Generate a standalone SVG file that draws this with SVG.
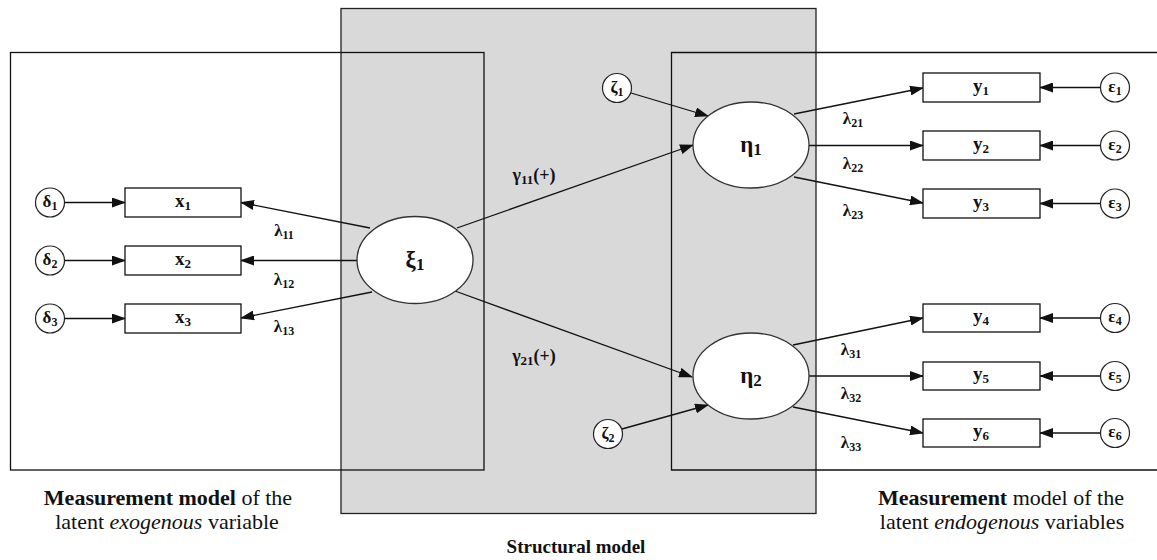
<svg xmlns="http://www.w3.org/2000/svg" width="1157" height="560" viewBox="0 0 1157 560">
  <defs>
    <marker id="arrow" markerWidth="14" markerHeight="10" refX="13" refY="5" orient="auto" markerUnits="userSpaceOnUse">
      <path d="M0,0 L14,5 L0,10 Z" fill="#111"/>
    </marker>
    <style>
      .frame { fill: none; stroke: #111; stroke-width: 1.3; }
      .panel { fill: #d9d9d9; stroke: #222; stroke-width: 1.3; }
      .box { fill: #fff; stroke: #111; stroke-width: 1.3; }
      .latent { fill: #fff; stroke: #333; stroke-width: 1.3; }
      .err { fill: #fff; stroke: #222; stroke-width: 1.2; }
      .edge { fill: none; stroke: #111; stroke-width: 1.3; marker-end: url(#arrow); }
      text { font-family: "Liberation Serif", "Times New Roman", serif; fill: #111; }
      .lbl { font-size: 19px; font-weight: bold; text-anchor: middle; }
      .big { font-size: 23px; font-weight: bold; text-anchor: middle; }
      .small { font-size: 17px; font-weight: bold; text-anchor: middle; }
      .coef { font-size: 17px; font-weight: bold; text-anchor: middle; }
      .gam { font-size: 18px; font-weight: bold; text-anchor: middle; }
      .cap { font-size: 22px; text-anchor: middle; }
      .title { font-size: 19px; font-weight: bold; text-anchor: middle; }
      .b { font-weight: bold; }
      .i { font-style: italic; }
    </style>
  </defs>

  <!-- structural model panel -->
  <rect id="structural-panel" class="panel" x="341" y="8.5" width="475" height="505"/>
  <!-- measurement model frames -->
  <rect id="exogenous-frame" class="frame" x="10.5" y="52.5" width="473.5" height="417.5"/>
  <path id="endogenous-frame" class="frame" d="M1160,52.5 H671.5 V470 H1160"/>

  <!-- connectors -->
  <g id="connectors">
    <line class="edge" x1="64.5" y1="202.5" x2="125" y2="202.5"/>
    <line class="edge" x1="64.5" y1="260.5" x2="125" y2="260.5"/>
    <line class="edge" x1="64.5" y1="318.5" x2="125" y2="318.5"/>
    <line class="edge" x1="370" y1="228" x2="241" y2="202.5"/>
    <line class="edge" x1="357" y1="260.5" x2="241" y2="260.5"/>
    <line class="edge" x1="372" y1="292" x2="241" y2="318"/>
    <line class="edge" x1="457" y1="228" x2="693" y2="145"/>
    <line class="edge" x1="455" y1="291" x2="692" y2="377"/>
    <line class="edge" x1="631" y1="93" x2="708" y2="116"/>
    <line class="edge" x1="622" y1="429" x2="708" y2="405"/>
    <line class="edge" x1="794" y1="114" x2="923" y2="88"/>
    <line class="edge" x1="809" y1="145.5" x2="923" y2="145.5"/>
    <line class="edge" x1="794" y1="177" x2="923" y2="203"/>
    <line class="edge" x1="793" y1="345" x2="923" y2="318"/>
    <line class="edge" x1="809" y1="376" x2="923" y2="376"/>
    <line class="edge" x1="793" y1="407" x2="923" y2="433"/>
    <line class="edge" x1="1100.5" y1="87.5" x2="1040" y2="87.5"/>
    <line class="edge" x1="1100.5" y1="145.5" x2="1040" y2="145.5"/>
    <line class="edge" x1="1100.5" y1="203.5" x2="1040" y2="203.5"/>
    <line class="edge" x1="1100.5" y1="318" x2="1040" y2="318"/>
    <line class="edge" x1="1100.5" y1="376" x2="1040" y2="376"/>
    <line class="edge" x1="1100.5" y1="433" x2="1040" y2="433"/>
  </g>

  <!-- loading and path coefficients -->
  <g id="coefficients">
    <text class="coef" x="284" y="236">λ<tspan font-size="12" dy="3">11</tspan></text>
    <text class="coef" x="284" y="285">λ<tspan font-size="12" dy="3">12</tspan></text>
    <text class="coef" x="284" y="332">λ<tspan font-size="12" dy="3">13</tspan></text>
    <text class="gam" x="534" y="181">γ<tspan font-size="13" dy="3">11</tspan><tspan dy="-3">(+)</tspan></text>
    <text class="gam" x="534" y="362">γ<tspan font-size="13" dy="3">21</tspan><tspan dy="-3">(+)</tspan></text>
    <text class="coef" x="853" y="124">λ<tspan font-size="12" dy="3">21</tspan></text>
    <text class="coef" x="853" y="169">λ<tspan font-size="12" dy="3">22</tspan></text>
    <text class="coef" x="853" y="216">λ<tspan font-size="12" dy="3">23</tspan></text>
    <text class="coef" x="851" y="355">λ<tspan font-size="12" dy="3">31</tspan></text>
    <text class="coef" x="851" y="399">λ<tspan font-size="12" dy="3">32</tspan></text>
    <text class="coef" x="851" y="448">λ<tspan font-size="12" dy="3">33</tspan></text>
  </g>

  <!-- error terms of x -->
  <g id="delta1"><circle class="err" cx="50" cy="202.5" r="14.5"/><text class="small" x="50" y="207">δ<tspan font-size="12" dy="3">1</tspan></text></g>
  <g id="delta2"><circle class="err" cx="50" cy="260.5" r="14.5"/><text class="small" x="50" y="265">δ<tspan font-size="12" dy="3">2</tspan></text></g>
  <g id="delta3"><circle class="err" cx="50" cy="318.5" r="14.5"/><text class="small" x="50" y="323">δ<tspan font-size="12" dy="3">3</tspan></text></g>

  <!-- observed exogenous indicators -->
  <g id="x1"><rect class="box" x="125" y="188" width="116" height="29"/><text class="lbl" x="183" y="207">x<tspan font-size="13" dy="3">1</tspan></text></g>
  <g id="x2"><rect class="box" x="125" y="246" width="116" height="29"/><text class="lbl" x="183" y="265">x<tspan font-size="13" dy="3">2</tspan></text></g>
  <g id="x3"><rect class="box" x="125" y="304" width="116" height="29"/><text class="lbl" x="183" y="323">x<tspan font-size="13" dy="3">3</tspan></text></g>

  <!-- latent variables -->
  <g id="xi1"><ellipse class="latent" cx="415" cy="260" rx="58" ry="43.5"/><text class="big" x="415" y="267">ξ<tspan font-size="17" dy="3">1</tspan></text></g>
  <g id="eta1"><ellipse class="latent" cx="751" cy="145" rx="58" ry="43"/><text class="big" x="751" y="152">η<tspan font-size="17" dy="3">1</tspan></text></g>
  <g id="eta2"><ellipse class="latent" cx="751" cy="376" rx="58" ry="43"/><text class="big" x="751" y="383">η<tspan font-size="17" dy="3">2</tspan></text></g>

  <!-- structural disturbances -->
  <g id="zeta1"><circle class="err" cx="617" cy="88" r="14.5"/><text class="small" x="617" y="93">ζ<tspan font-size="12" dy="3">1</tspan></text></g>
  <g id="zeta2"><circle class="err" cx="608" cy="434" r="14.5"/><text class="small" x="608" y="439">ζ<tspan font-size="12" dy="3">2</tspan></text></g>

  <!-- observed endogenous indicators -->
  <g id="y1"><rect class="box" x="923" y="73" width="117" height="29"/><text class="lbl" x="981" y="92">y<tspan font-size="13" dy="3">1</tspan></text></g>
  <g id="y2"><rect class="box" x="923" y="131" width="117" height="29"/><text class="lbl" x="981" y="150">y<tspan font-size="13" dy="3">2</tspan></text></g>
  <g id="y3"><rect class="box" x="923" y="189" width="117" height="29"/><text class="lbl" x="981" y="208">y<tspan font-size="13" dy="3">3</tspan></text></g>
  <g id="y4"><rect class="box" x="923" y="304" width="117" height="28"/><text class="lbl" x="981" y="322">y<tspan font-size="13" dy="3">4</tspan></text></g>
  <g id="y5"><rect class="box" x="923" y="362" width="117" height="28"/><text class="lbl" x="981" y="380">y<tspan font-size="13" dy="3">5</tspan></text></g>
  <g id="y6"><rect class="box" x="923" y="419" width="117" height="28"/><text class="lbl" x="981" y="437">y<tspan font-size="13" dy="3">6</tspan></text></g>

  <!-- error terms of y -->
  <g id="eps1"><circle class="err" cx="1115" cy="87.5" r="14.5"/><text class="small" x="1115" y="92">ε<tspan font-size="12" dy="3">1</tspan></text></g>
  <g id="eps2"><circle class="err" cx="1115" cy="145.5" r="14.5"/><text class="small" x="1115" y="150">ε<tspan font-size="12" dy="3">2</tspan></text></g>
  <g id="eps3"><circle class="err" cx="1115" cy="203.5" r="14.5"/><text class="small" x="1115" y="208">ε<tspan font-size="12" dy="3">3</tspan></text></g>
  <g id="eps4"><circle class="err" cx="1115" cy="318" r="14.5"/><text class="small" x="1115" y="322">ε<tspan font-size="12" dy="3">4</tspan></text></g>
  <g id="eps5"><circle class="err" cx="1115" cy="376" r="14.5"/><text class="small" x="1115" y="380">ε<tspan font-size="12" dy="3">5</tspan></text></g>
  <g id="eps6"><circle class="err" cx="1115" cy="433" r="14.5"/><text class="small" x="1115" y="437">ε<tspan font-size="12" dy="3">6</tspan></text></g>

  <!-- captions -->
  <g id="captions">
    <text class="cap" x="168" y="505"><tspan class="b">Measurement model</tspan> of the</text>
    <text class="cap" x="167" y="529">latent <tspan class="i">exogenous</tspan> variable</text>
    <text class="title" x="576" y="553">Structural model</text>
    <text class="cap" x="1001" y="505"><tspan class="b">Measurement</tspan> model of the</text>
    <text class="cap" x="1002" y="529">latent <tspan class="i">endogenous</tspan> variables</text>
  </g>
</svg>
